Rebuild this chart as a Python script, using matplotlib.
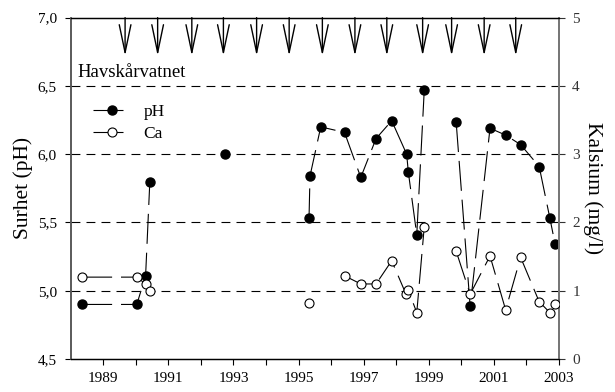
import matplotlib
matplotlib.use('Agg')
import matplotlib.pyplot as plt
import numpy as np

nan = np.nan

# pH (left axis), nan = break in line
ph_year = [1988.35, 1990.03, 1990.30, 1990.43, nan, 1992.74, nan,
           1995.32, 1995.35, 1995.68, 1996.41, 1996.91, 1997.38, 1997.86,
           1998.32, 1998.37, 1998.63, 1998.86, nan,
           1999.84, 2000.27, 2000.88, 2001.36, 2001.82, 2002.39, 2002.72, 2002.88]
ph = [4.90, 4.90, 5.11, 5.80, nan, 6.00, nan,
      5.53, 5.84, 6.20, 6.16, 5.83, 6.115, 6.245,
      6.00, 5.87, 5.41, 6.47, nan,
      6.235, 4.885, 6.19, 6.14, 6.07, 5.91, 5.53, 5.34]

# Ca (right axis)
ca_year = [1988.35, 1990.03, 1990.30, 1990.43, nan, 1995.33, nan,
           1996.41, 1996.91, 1997.38, 1997.86, 1998.30, 1998.37, 1998.63, 1998.86, nan,
           1999.84, 2000.27, 2000.88, 2001.36, 2001.82, 2002.39, 2002.72, 2002.88]
ca = [1.20, 1.20, 1.10, 1.00, nan, 0.82, nan,
      1.22, 1.10, 1.10, 1.44, 0.95, 1.01, 0.68, 1.94, nan,
      1.58, 0.95, 1.51, 0.72, 1.49, 0.84, 0.68, 0.80]

# liming events (arrows)
arrow_years = [1989.67, 1990.67, 1991.72, 1992.69, 1993.71, 1994.71, 1995.73,
               1996.73, 1997.71, 1998.81, 1999.70, 2000.70, 2001.67]

ph_ticks = [4.5, 5.0, 5.5, 6.0, 6.5, 7.0]
ph_labels = ['4,5', '5,0', '5,5', '6,0', '6,5', '7,0']
ca_ticks = [0, 1, 2, 3, 4, 5]
grid_levels = [5.0, 5.5, 6.0, 6.5]
year_ticks = [1989, 1991, 1993, 1995, 1997, 1999, 2001, 2003]
year_minor = [1990, 1992, 1994, 1996, 1998, 2000, 2002]

plt.rcParams['font.family'] = ['Liberation Serif', 'DejaVu Serif']

fig = plt.figure(figsize=(6.15, 3.92), dpi=100)
ax = fig.add_axes([0.115, 0.084, 0.794, 0.871])
ax2 = ax.twinx()

for g in grid_levels:
    ax.axhline(g, color='black', lw=0.8, linestyle=(0, (8, 5.5)), zorder=1)

lw = 0.8
l1, = ax.plot(ph_year, ph, color='black', lw=lw, linestyle=(0, (27, 8)),
              marker='o', ms=6.5, mfc='black', mec='black', label='pH', zorder=3)
l2, = ax2.plot(ca_year, ca, color='black', lw=lw, linestyle=(0, (27, 8)),
               marker='o', ms=6.5, mfc='white', mec='black', mew=0.8, label='Ca', zorder=3)

for yr in arrow_years:
    ax.annotate('', xy=(yr, 6.72), xytext=(yr, 7.0),
                arrowprops=dict(arrowstyle='->,head_length=2.0,head_width=0.42',
                                lw=1.0, color='black', shrinkA=0, shrinkB=0),
                annotation_clip=False)

ax.text(1988.2, 6.60, 'Havskårvatnet', fontsize=13.5, va='center', ha='left')

ax.set_xlim(1988, 2003)
ax.set_ylim(4.5, 7.0)
ax2.set_ylim(0, 5)
ax.set_xticks(year_ticks)
ax.set_xticks(year_minor, minor=True)
ax.set_yticks(ph_ticks)
ax.set_yticklabels(ph_labels)
ax2.set_yticks(ca_ticks)

ax.tick_params(axis='x', which='both', direction='out', length=4, width=0.8, labelsize=11, pad=5)
ax.tick_params(axis='y', direction='out', length=4, width=0.8, labelsize=11, pad=6)
ax2.tick_params(axis='y', direction='out', length=4, width=0.8, labelsize=11, pad=5.5, colors='#333333')

for a in (ax, ax2):
    a.spines['left'].set_color('#555555')
    a.spines['right'].set_color('#777777')
    a.spines['left'].set_linewidth(1.1)
    a.spines['right'].set_linewidth(1.4)
    a.spines['top'].set_linewidth(0.9)
    a.spines['bottom'].set_linewidth(0.9)

ax.set_ylabel('Surhet (pH)', fontsize=15.5)
ax.yaxis.set_label_coords(-0.078, 0.5)
ax2.set_ylabel('Kalsium (mg/l)', fontsize=15.5, rotation=270, va='center')
ax2.yaxis.set_label_coords(1.07, 0.5)

ax2.legend([l1, l2], ['pH', 'Ca'], loc='upper left', bbox_to_anchor=(0.046, 0.748),
           frameon=False, fontsize=12.5, handlelength=2.2, handletextpad=0.7,
           borderpad=0, borderaxespad=0, labelspacing=0.35)

fig.savefig('out.png', dpi=100)
